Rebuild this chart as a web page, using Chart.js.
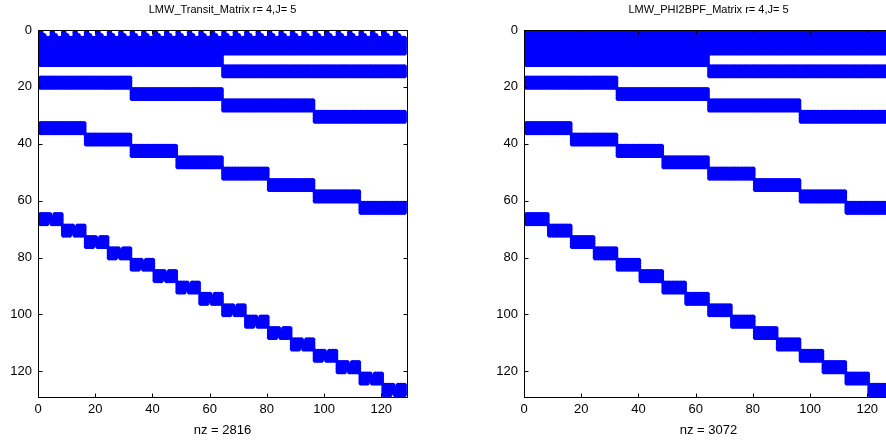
<!DOCTYPE html>
<html>
<head>
<meta charset="utf-8">
<script src="https://cdn.jsdelivr.net/npm/chart.js@4.4.1/dist/chart.umd.min.js"></script>
<style>
html, body { margin: 0; padding: 0; background: #fff; overflow: hidden; width: 886px; height: 443px; }
canvas { position: absolute; top: 0; }
#spyLeft { left: 0; }
#spyRight { left: 443px; }
</style>
</head>
<body>
<canvas id="spyLeft" width="443" height="443"></canvas>
<canvas id="spyRight" width="451" height="443"></canvas>
<script>
const axisMax = 129;
const tickValues = [0, 20, 40, 60, 80, 100, 120];

// nonzero blocks (1-based, inclusive): rows and columns
const blockRowStart = [1, 9, 13, 17, 21, 25, 29, 33, 37, 41, 45, 49, 53, 57, 61, 65, 69, 73, 77, 81, 85, 89, 93, 97, 101, 105, 109, 113, 117, 121, 125];
const blockRowEnd   = [8, 12, 16, 20, 24, 28, 32, 36, 40, 44, 48, 52, 56, 60, 64, 68, 72, 76, 80, 84, 88, 92, 96, 100, 104, 108, 112, 116, 120, 124, 128];
const blockColStart = [1, 1, 65, 1, 33, 65, 97, 1, 17, 33, 49, 65, 81, 97, 113, 1, 9, 17, 25, 33, 41, 49, 57, 65, 73, 81, 89, 97, 105, 113, 121];
const blockColEnd   = [128, 64, 128, 32, 64, 96, 128, 16, 32, 48, 64, 80, 96, 112, 128, 8, 16, 24, 32, 40, 48, 56, 64, 72, 80, 88, 96, 104, 112, 120, 128];

// Transit matrix only: zeros inside the blocks
const toothRows = [1, 2];
const toothGapOffsets = [[1, 2, 3], [2, 3]];                 // column offset (0-3) in every group of 4
const notchCells = [[0, 4], [3, 3]];                         // (row, col) offset inside each 4x8 block

const titles = ['LMW_Transit_Matrix r= 4,J= 5', 'LMW_PHI2BPF_Matrix r= 4,J= 5'];
const nzLabels = ['nz = 2816', 'nz = 3072'];

const FONT = 'Liberation Sans, Arial, Helvetica, sans-serif';

function buildPoints(withHoles) {
    const pts = [];
    for (let b = 0; b < blockRowStart.length; b++) {
        const fine = (blockColEnd[b] - blockColStart[b] + 1) === 8;
        for (let r = blockRowStart[b]; r <= blockRowEnd[b]; r++) {
            for (let c = blockColStart[b]; c <= blockColEnd[b]; c++) {
                if (withHoles) {
                    const t = toothRows.indexOf(r);
                    if (t >= 0 && toothGapOffsets[t].includes((c - 1) % 4)) continue;
                    const dr = r - blockRowStart[b], dc = c - blockColStart[b];
                    if (fine && notchCells.some(n => n[0] === dr && n[1] === dc)) continue;
                }
                pts.push({ x: c, y: r });
            }
        }
    }
    return pts;
}

// box around the axes + inward tick marks, like matlab
const boxPlugin = {
    id: 'matlabBox',
    afterDatasetsDraw(chart) {
        const { ctx, chartArea: a, scales } = chart;
        const L = Math.round(a.left) + 0.5, R = Math.round(a.right) + 0.5;
        const T = Math.round(a.top) + 0.5, B = Math.round(a.bottom) + 0.5;
        ctx.save();
        ctx.strokeStyle = '#000';
        ctx.lineWidth = 1;
        ctx.beginPath();
        for (const v of tickValues) {
            const x = Math.round(scales.x.getPixelForValue(v)) + 0.5;
            ctx.moveTo(x, B); ctx.lineTo(x, B - 4);
            ctx.moveTo(x, T); ctx.lineTo(x, T + 4);
            const y = Math.round(scales.y.getPixelForValue(v)) + 0.5;
            ctx.moveTo(L, y); ctx.lineTo(L + 4, y);
            ctx.moveTo(R, y); ctx.lineTo(R - 4, y);
        }
        ctx.stroke();
        ctx.strokeRect(L, T, R - L, B - T);
        ctx.restore();
    }
};

function makeSpy(id, idx, padLeft, padRight) {
    const setTicks = s => { s.ticks = tickValues.map(v => ({ value: v })); };
    return new Chart(document.getElementById(id), {
        type: 'scatter',
        data: {
            datasets: [{
                data: buildPoints(idx === 0),
                backgroundColor: '#0000ff',
                borderWidth: 0,
                pointRadius: 2.8,
                pointHoverRadius: 2.8
            }]
        },
        options: {
            responsive: false,
            animation: false,
            events: [],
            layout: { padding: { left: padLeft, right: padRight, top: 0, bottom: 0 }, autoPadding: false },
            plugins: {
                legend: { display: false },
                tooltip: { enabled: false },
                title: {
                    display: true,
                    text: titles[idx],
                    fullSize: false,
                    color: '#000',
                    font: { family: FONT, size: 11, weight: 'normal' },
                    padding: { top: 3, bottom: 13.8 }
                }
            },
            scales: {
                x: {
                    type: 'linear', min: 0, max: axisMax,
                    grid: { display: false, drawTicks: false }, border: { display: false },
                    afterBuildTicks: setTicks,
                    afterFit: s => { s.height = 46; },
                    ticks: { color: '#000', font: { family: FONT, size: 13 }, padding: 5, maxRotation: 0, autoSkip: false },
                    title: { display: true, text: nzLabels[idx], color: '#000', font: { family: FONT, size: 13 }, padding: { top: 0, bottom: 5 } }
                },
                y: {
                    type: 'linear', min: 0, max: axisMax, reverse: true,
                    grid: { display: false, drawTicks: false }, border: { display: false },
                    afterBuildTicks: setTicks,
                    afterFit: s => { s.width = 38; },
                    ticks: { color: '#000', font: { family: FONT, size: 13 }, padding: 6, autoSkip: false }
                }
            }
        },
        plugins: [boxPlugin]
    });
}

makeSpy('spyLeft', 0, 0, 36);
makeSpy('spyRight', 1, 43, 1);
</script>
</body>
</html>
